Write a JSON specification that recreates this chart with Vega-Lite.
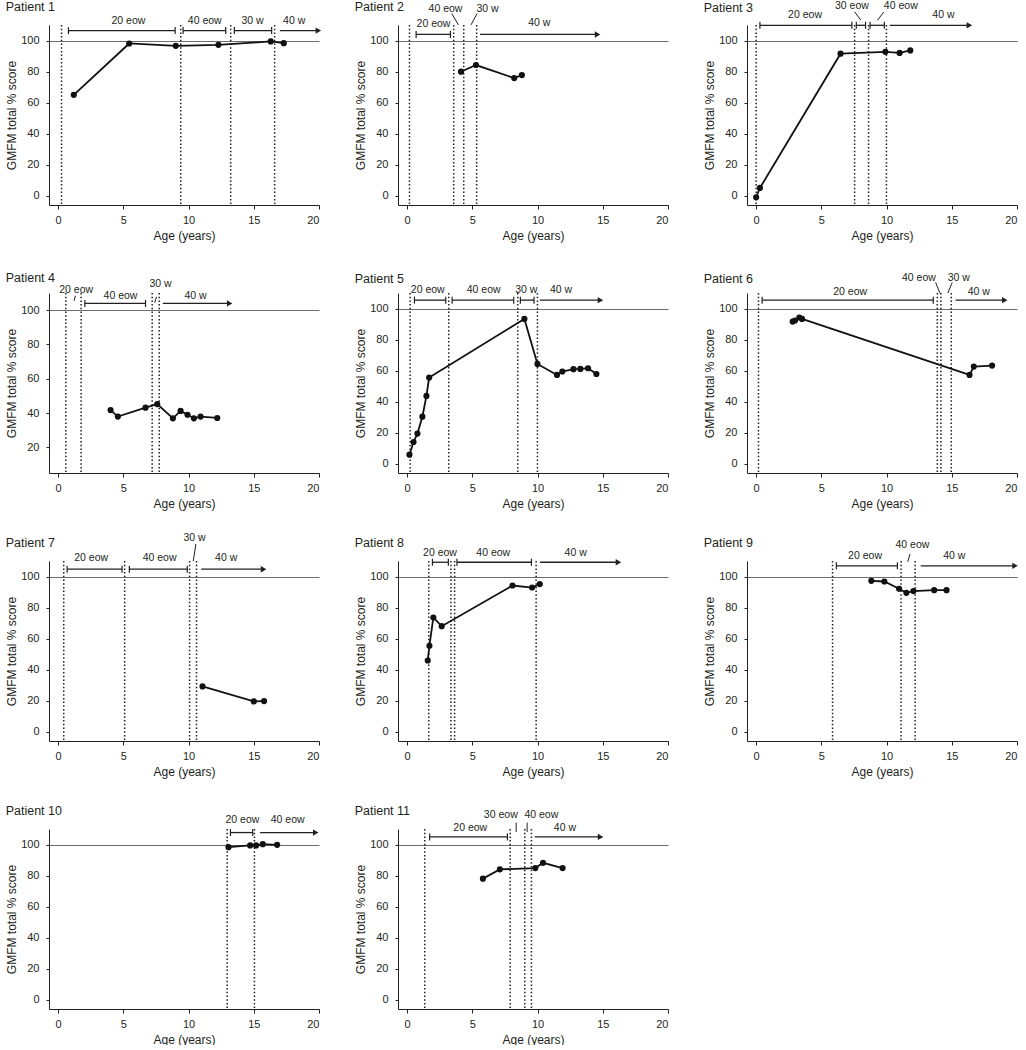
{
"$schema":"https://vega.github.io/schema/vega-lite/v6.json",
"background":"white",
"padding":{"left":5,"top":0,"right":0,"bottom":0},
"config":{"font":"Liberation Sans","view":{"stroke":null},
 "axis":{"grid":false,"domainColor":"#231f20","tickColor":"#231f20","labelColor":"#231f20","titleColor":"#231f20","labelFontSize":11,"titleFontSize":12,"titleFontWeight":"normal","tickSize":4},
 "axisY":{"titlePadding":2,"labelPadding":7,"tickSize":3},"axisX":{"titlePadding":5,"labelPadding":5},
 "title":{"fontSize":12.5,"fontWeight":"normal","color":"#231f20","anchor":"start","frame":"bounds"}},
"datasets":{"d":[
{"p":1,"k":"pt","x":1.2,"y":65},{"p":1,"k":"pt","x":5.45,"y":98.1},{"p":1,"k":"pt","x":9.02,"y":96.6},{"p":1,"k":"pt","x":12.29,"y":97.2},{"p":1,"k":"pt","x":16.3,"y":99.4},{"p":1,"k":"pt","x":17.3,"y":98.3},
{"p":1,"k":"ev","x":0.26},{"p":1,"k":"ev","x":9.4},{"p":1,"k":"ev","x":13.23},{"p":1,"k":"ev","x":16.6},
{"p":1,"k":"bar","x":0.79,"x2":8.97,"y":106.4},{"p":1,"k":"bar","x":9.58,"x2":12.85,"y":106.4},{"p":1,"k":"bar","x":13.51,"x2":16.37,"y":106.4},{"p":1,"k":"bar","x":17.0,"x2":19.95,"y":106.4,"a":1},
{"p":1,"k":"lbl","x":5.39,"y":112.8,"t":"20 eow"},{"p":1,"k":"lbl","x":11.24,"y":112.8,"t":"40 eow"},{"p":1,"k":"lbl","x":14.9,"y":112.8,"t":"30 w"},{"p":1,"k":"lbl","x":18.1,"y":112.8,"t":"40 w"},

{"p":2,"k":"pt","x":4.13,"y":79.9},{"p":2,"k":"pt","x":5.28,"y":84.2},{"p":2,"k":"pt","x":8.21,"y":75.8},{"p":2,"k":"pt","x":8.8,"y":77.7},
{"p":2,"k":"ev","x":0.18},{"p":2,"k":"ev","x":3.57},{"p":2,"k":"ev","x":4.34},{"p":2,"k":"ev","x":5.33},
{"p":2,"k":"bar","x":0.69,"x2":3.32,"y":103.9},{"p":2,"k":"bar","x":5.59,"x2":14.6,"y":103.9,"a":1},
{"p":2,"k":"lbl","x":2.02,"y":110.7,"t":"20 eow"},{"p":2,"k":"lbl","x":2.94,"y":120.6,"t":"40 eow"},{"p":2,"k":"lbl","x":6.17,"y":120.6,"t":"30 w"},{"p":2,"k":"lbl","x":10.13,"y":111.3,"t":"40 w"},
{"p":2,"k":"sl","x":3.42,"y":117.4,"x2":3.93,"y2":110.1},{"p":2,"k":"sl","x":5.36,"y":117.4,"x2":4.9,"y2":110.1},

{"p":3,"k":"pt","x":0,"y":-1},{"p":3,"k":"pt","x":0.29,"y":5},{"p":3,"k":"pt","x":6.47,"y":91.5},{"p":3,"k":"pt","x":9.91,"y":92.7},{"p":3,"k":"pt","x":11.0,"y":92},{"p":3,"k":"pt","x":11.82,"y":93.6},
{"p":3,"k":"ev","x":0},{"p":3,"k":"ev","x":7.55},{"p":3,"k":"ev","x":8.62},{"p":3,"k":"ev","x":9.99},
{"p":3,"k":"bar","x":0.29,"x2":7.34,"y":109.8},{"p":3,"k":"bar","x":7.68,"x2":8.39,"y":109.8},{"p":3,"k":"bar","x":8.73,"x2":9.83,"y":109.8},{"p":3,"k":"bar","x":10.25,"x2":16.35,"y":109.8,"a":1},
{"p":3,"k":"lbl","x":3.75,"y":116.7,"t":"20 eow"},{"p":3,"k":"lbl","x":7.34,"y":122.5,"t":"30 eow"},{"p":3,"k":"lbl","x":11.09,"y":122.5,"t":"40 eow"},{"p":3,"k":"lbl","x":14.36,"y":116.7,"t":"40 w"},
{"p":3,"k":"sl","x":7.55,"y":118.5,"x2":8.02,"y2":113.2},{"p":3,"k":"sl","x":9.78,"y":118.3,"x2":9.3,"y2":113},

{"p":4,"k":"pt","x":4.02,"y":41.7},{"p":4,"k":"pt","x":4.58,"y":37.9},{"p":4,"k":"pt","x":6.7,"y":43.1},{"p":4,"k":"pt","x":7.6,"y":45.2},{"p":4,"k":"pt","x":8.8,"y":36.9},{"p":4,"k":"pt","x":9.39,"y":41.2},{"p":4,"k":"pt","x":9.92,"y":39},{"p":4,"k":"pt","x":10.41,"y":36.9},{"p":4,"k":"pt","x":10.92,"y":37.9},{"p":4,"k":"pt","x":12.2,"y":37.1},
{"p":4,"k":"ev","x":0.59},{"p":4,"k":"ev","x":1.76},{"p":4,"k":"ev","x":7.21},{"p":4,"k":"ev","x":7.75},
{"p":4,"k":"bar","x":2.05,"x2":6.7,"y":103.9},{"p":4,"k":"bar","x":8.03,"x2":13.15,"y":103.9,"a":1},
{"p":4,"k":"lbl","x":1.38,"y":111.7,"t":"20 eow"},{"p":4,"k":"lbl","x":4.78,"y":108.3,"t":"40 eow"},{"p":4,"k":"lbl","x":7.85,"y":115.5,"t":"30 w"},{"p":4,"k":"lbl","x":10.54,"y":108.3,"t":"40 w"},
{"p":4,"k":"sl","x":1.22,"y":105.4,"x2":1.33,"y2":108.4},{"p":4,"k":"sl","x":7.4,"y":104.3,"x2":7.55,"y2":107.8},

{"p":5,"k":"pt","x":0.18,"y":5.8},{"p":5,"k":"pt","x":0.49,"y":14},{"p":5,"k":"pt","x":0.79,"y":19.4},{"p":5,"k":"pt","x":1.17,"y":30.3},{"p":5,"k":"pt","x":1.48,"y":43.7},{"p":5,"k":"pt","x":1.69,"y":55.5},{"p":5,"k":"pt","x":8.99,"y":93.3},{"p":5,"k":"pt","x":9.99,"y":64.3},{"p":5,"k":"pt","x":11.49,"y":57.2},{"p":5,"k":"pt","x":11.9,"y":59.4},{"p":5,"k":"pt","x":12.75,"y":60.9},{"p":5,"k":"pt","x":13.28,"y":61.1},{"p":5,"k":"pt","x":13.87,"y":61.5},{"p":5,"k":"pt","x":14.51,"y":57.8},
{"p":5,"k":"ev","x":0.23},{"p":5,"k":"ev","x":3.19},{"p":5,"k":"ev","x":8.48},{"p":5,"k":"ev","x":9.99},
{"p":5,"k":"bar","x":0.56,"x2":2.96,"y":105.4},{"p":5,"k":"bar","x":3.45,"x2":8.17,"y":105.4},{"p":5,"k":"bar","x":8.68,"x2":9.73,"y":105.4},{"p":5,"k":"bar","x":10.17,"x2":14.82,"y":105.4,"a":1},
{"p":5,"k":"lbl","x":1.58,"y":112,"t":"20 eow"},{"p":5,"k":"lbl","x":5.87,"y":112,"t":"40 eow"},{"p":5,"k":"lbl","x":9.14,"y":112,"t":"30 w"},{"p":5,"k":"lbl","x":11.8,"y":112,"t":"40 w"},

{"p":6,"k":"pt","x":2.8,"y":91.6},{"p":6,"k":"pt","x":2.98,"y":92.3},{"p":6,"k":"pt","x":3.31,"y":94.2},{"p":6,"k":"pt","x":3.52,"y":93.3},{"p":6,"k":"pt","x":16.36,"y":57.2},{"p":6,"k":"pt","x":16.69,"y":62.6},{"p":6,"k":"pt","x":18.09,"y":63.2},
{"p":6,"k":"ev","x":0.18},{"p":6,"k":"ev","x":13.89},{"p":6,"k":"ev","x":14.17},{"p":6,"k":"ev","x":14.96},
{"p":6,"k":"bar","x":0.46,"x2":13.58,"y":105.4},{"p":6,"k":"bar","x":15.29,"x2":19.06,"y":105.4,"a":1},
{"p":6,"k":"lbl","x":7.21,"y":110.8,"t":"20 eow"},{"p":6,"k":"lbl","x":12.48,"y":119.4,"t":"40 eow"},{"p":6,"k":"lbl","x":15.54,"y":119.4,"t":"30 w"},{"p":6,"k":"lbl","x":17.07,"y":110.8,"t":"40 w"},
{"p":6,"k":"sl","x":13.76,"y":116.8,"x2":14.09,"y2":109.9},{"p":6,"k":"sl","x":15.03,"y":116.8,"x2":14.7,"y2":109.9},

{"p":7,"k":"pt","x":11.07,"y":29.2},{"p":7,"k":"pt","x":15.0,"y":19.5},{"p":7,"k":"pt","x":15.79,"y":19.7},
{"p":7,"k":"ev","x":0.43},{"p":7,"k":"ev","x":5.1},{"p":7,"k":"ev","x":10.08},{"p":7,"k":"ev","x":10.61},
{"p":7,"k":"bar","x":0.69,"x2":4.9,"y":104.7},{"p":7,"k":"bar","x":5.46,"x2":9.9,"y":104.7},{"p":7,"k":"bar","x":10.97,"x2":15.75,"y":104.7,"a":1},
{"p":7,"k":"lbl","x":2.53,"y":112,"t":"20 eow"},{"p":7,"k":"lbl","x":7.78,"y":112,"t":"40 eow"},{"p":7,"k":"lbl","x":12.88,"y":112,"t":"40 w"},{"p":7,"k":"lbl","x":10.46,"y":124.9,"t":"30 w"},
{"p":7,"k":"sl","x":10.56,"y":121,"x2":10.36,"y2":109.9},

{"p":8,"k":"pt","x":1.58,"y":45.9},{"p":8,"k":"pt","x":1.71,"y":55.4},{"p":8,"k":"pt","x":2.01,"y":73.6},{"p":8,"k":"pt","x":2.65,"y":68},{"p":8,"k":"pt","x":8.08,"y":94.2},{"p":8,"k":"pt","x":9.58,"y":92.9},{"p":8,"k":"pt","x":10.17,"y":95.1},
{"p":8,"k":"ev","x":1.66},{"p":8,"k":"ev","x":3.36},{"p":8,"k":"ev","x":3.64},{"p":8,"k":"ev","x":9.89},
{"p":8,"k":"bar","x":1.94,"x2":3.16,"y":109.2},{"p":8,"k":"bar","x":3.82,"x2":9.53,"y":109.2},{"p":8,"k":"bar","x":10.19,"x2":16.2,"y":109.2,"a":1},
{"p":8,"k":"lbl","x":2.52,"y":115.2,"t":"20 eow"},{"p":8,"k":"lbl","x":6.6,"y":115.2,"t":"40 eow"},{"p":8,"k":"lbl","x":12.92,"y":115.2,"t":"40 w"},

{"p":9,"k":"pt","x":8.83,"y":97.2},{"p":9,"k":"pt","x":9.83,"y":96.8},{"p":9,"k":"pt","x":10.96,"y":92.1},{"p":9,"k":"pt","x":11.52,"y":89.5},{"p":9,"k":"pt","x":12.06,"y":90.6},{"p":9,"k":"pt","x":13.65,"y":91.2},{"p":9,"k":"pt","x":14.6,"y":91.2},
{"p":9,"k":"ev","x":5.86},{"p":9,"k":"ev","x":11.11},{"p":9,"k":"ev","x":12.19},
{"p":9,"k":"bar","x":6.15,"x2":10.83,"y":106.9},{"p":9,"k":"bar","x":12.62,"x2":19.85,"y":106.9,"a":1},
{"p":9,"k":"lbl","x":8.35,"y":113.5,"t":"20 eow"},{"p":9,"k":"lbl","x":11.98,"y":120,"t":"40 eow"},{"p":9,"k":"lbl","x":15.19,"y":113.5,"t":"40 w"},
{"p":9,"k":"sl","x":11.8,"y":114.5,"x2":11.62,"y2":109.5},

{"p":10,"k":"pt","x":13.06,"y":98.3},{"p":10,"k":"pt","x":14.72,"y":99.4},{"p":10,"k":"pt","x":15.18,"y":99.4},{"p":10,"k":"pt","x":15.69,"y":100.2},{"p":10,"k":"pt","x":16.79,"y":99.8},
{"p":10,"k":"ev","x":12.96},{"p":10,"k":"ev","x":15.05},
{"p":10,"k":"bar","x":13.21,"x2":14.92,"y":107.7},{"p":10,"k":"bar","x":15.48,"x2":19.75,"y":107.7,"a":1},
{"p":10,"k":"lbl","x":14.13,"y":115.5,"t":"20 eow"},{"p":10,"k":"lbl","x":17.6,"y":115.5,"t":"40 eow"},

{"p":11,"k":"pt","x":5.81,"y":78},{"p":11,"k":"pt","x":7.11,"y":84},{"p":11,"k":"pt","x":9.83,"y":84.8},{"p":11,"k":"pt","x":10.42,"y":88.2},{"p":11,"k":"pt","x":11.92,"y":84.8},
{"p":11,"k":"ev","x":1.35},{"p":11,"k":"ev","x":7.9},{"p":11,"k":"ev","x":9.02},{"p":11,"k":"ev","x":9.53},
{"p":11,"k":"bar","x":1.73,"x2":7.69,"y":104.9},{"p":11,"k":"bar","x":9.78,"x2":14.83,"y":104.9,"a":1},
{"p":11,"k":"lbl","x":4.84,"y":110.9,"t":"20 eow"},{"p":11,"k":"lbl","x":7.18,"y":118.8,"t":"30 eow"},{"p":11,"k":"lbl","x":10.29,"y":118.8,"t":"40 eow"},{"p":11,"k":"lbl","x":12.1,"y":110.9,"t":"40 w"},
{"p":11,"k":"sl","x":8.36,"y":114.1,"x2":8.36,"y2":108.1},{"p":11,"k":"sl","x":9.2,"y":114.1,"x2":9.2,"y2":108.1}
]},
"data":{"name":"d"},
"bounds":"flush",
"columns":3,
"spacing":{"row":88,"column":79},
"concat":[
{"width":270,"height":180,"title":{"text":"Patient 1","offset":2},"transform":[{"filter":"datum.p==1"}],"encoding":{"x":{"field":"x","type":"quantitative","title":"Age (years)","scale":{"domain":[-0.7,20],"nice":false,"zero":false},"axis":{"values":[0,5,10,15,20]}},"y":{"field":"y","type":"quantitative","title":"GMFM total % score","scale":{"domain":[-6,110],"nice":false,"zero":false},"axis":{"values":[0,20,40,60,80,100],"grid":true,"gridColor":"#6d6d6d","gridWidth":1.2,"gridOpacity":{"condition":{"test":"datum.value === 100","value":1},"value":0}}}},"layer":[
{"transform":[{"filter":"datum.k=='ev'"}],"mark":{"type":"rule","color":"#231f20","strokeWidth":1.5,"strokeDash":[1.5,2.2]},"encoding":{"y":null}},
{"transform":[{"filter":"datum.k=='bar'"}],"mark":{"type":"rule","color":"#231f20","strokeWidth":1.3},"encoding":{"x2":{"field":"x2"}}},
{"transform":[{"filter":"datum.k=='bar' && !datum.a"},{"fold":["x","x2"],"as":["e","cx"]}],"mark":{"type":"tick","orient":"vertical","size":7,"thickness":1.2,"color":"#231f20","opacity":1},"encoding":{"x":{"field":"cx","type":"quantitative","scale":{"domain":[-0.7,20],"nice":false,"zero":false}}}},
{"transform":[{"filter":"datum.k=='bar' && datum.a"}],"mark":{"type":"point","shape":"triangle-right","filled":true,"size":40,"color":"#231f20","opacity":1},"encoding":{"x":{"field":"x2","type":"quantitative","scale":{"domain":[-0.7,20],"nice":false,"zero":false}}}},
{"transform":[{"filter":"datum.k=='sl'"}],"mark":{"type":"rule","color":"#231f20","strokeWidth":1},"encoding":{"x2":{"field":"x2"},"y2":{"field":"y2"}}},
{"transform":[{"filter":"datum.k=='lbl'"}],"mark":{"type":"text","fontSize":10.5,"color":"#231f20"},"encoding":{"text":{"field":"t"}}},
{"transform":[{"filter":"datum.k=='pt'"}],"mark":{"type":"line","color":"#111","strokeWidth":1.8,"point":{"filled":true,"size":38,"color":"#111","opacity":1}}}
]},
{"width":270,"height":180,"title":{"text":"Patient 2","offset":-10},"transform":[{"filter":"datum.p==2"}],"encoding":{"x":{"field":"x","type":"quantitative","title":"Age (years)","scale":{"domain":[-0.7,20],"nice":false,"zero":false},"axis":{"values":[0,5,10,15,20]}},"y":{"field":"y","type":"quantitative","title":"GMFM total % score","scale":{"domain":[-6,110],"nice":false,"zero":false},"axis":{"values":[0,20,40,60,80,100],"grid":true,"gridColor":"#6d6d6d","gridWidth":1.2,"gridOpacity":{"condition":{"test":"datum.value === 100","value":1},"value":0}}}},"layer":[
{"transform":[{"filter":"datum.k=='ev'"}],"mark":{"type":"rule","color":"#231f20","strokeWidth":1.5,"strokeDash":[1.5,2.2]},"encoding":{"y":null}},
{"transform":[{"filter":"datum.k=='bar'"}],"mark":{"type":"rule","color":"#231f20","strokeWidth":1.3},"encoding":{"x2":{"field":"x2"}}},
{"transform":[{"filter":"datum.k=='bar' && !datum.a"},{"fold":["x","x2"],"as":["e","cx"]}],"mark":{"type":"tick","orient":"vertical","size":7,"thickness":1.2,"color":"#231f20","opacity":1},"encoding":{"x":{"field":"cx","type":"quantitative","scale":{"domain":[-0.7,20],"nice":false,"zero":false}}}},
{"transform":[{"filter":"datum.k=='bar' && datum.a"}],"mark":{"type":"point","shape":"triangle-right","filled":true,"size":40,"color":"#231f20","opacity":1},"encoding":{"x":{"field":"x2","type":"quantitative","scale":{"domain":[-0.7,20],"nice":false,"zero":false}}}},
{"transform":[{"filter":"datum.k=='sl'"}],"mark":{"type":"rule","color":"#231f20","strokeWidth":1},"encoding":{"x2":{"field":"x2"},"y2":{"field":"y2"}}},
{"transform":[{"filter":"datum.k=='lbl'"}],"mark":{"type":"text","fontSize":10.5,"color":"#231f20"},"encoding":{"text":{"field":"t"}}},
{"transform":[{"filter":"datum.k=='pt'"}],"mark":{"type":"line","color":"#111","strokeWidth":1.8,"point":{"filled":true,"size":38,"color":"#111","opacity":1}}}
]},
{"width":270,"height":180,"title":{"text":"Patient 3","offset":-14.1},"transform":[{"filter":"datum.p==3"}],"encoding":{"x":{"field":"x","type":"quantitative","title":"Age (years)","scale":{"domain":[-0.7,20],"nice":false,"zero":false},"axis":{"values":[0,5,10,15,20]}},"y":{"field":"y","type":"quantitative","title":"GMFM total % score","scale":{"domain":[-6,110],"nice":false,"zero":false},"axis":{"values":[0,20,40,60,80,100],"grid":true,"gridColor":"#6d6d6d","gridWidth":1.2,"gridOpacity":{"condition":{"test":"datum.value === 100","value":1},"value":0}}}},"layer":[
{"transform":[{"filter":"datum.k=='ev'"}],"mark":{"type":"rule","color":"#231f20","strokeWidth":1.5,"strokeDash":[1.5,2.2]},"encoding":{"y":null}},
{"transform":[{"filter":"datum.k=='bar'"}],"mark":{"type":"rule","color":"#231f20","strokeWidth":1.3},"encoding":{"x2":{"field":"x2"}}},
{"transform":[{"filter":"datum.k=='bar' && !datum.a"},{"fold":["x","x2"],"as":["e","cx"]}],"mark":{"type":"tick","orient":"vertical","size":7,"thickness":1.2,"color":"#231f20","opacity":1},"encoding":{"x":{"field":"cx","type":"quantitative","scale":{"domain":[-0.7,20],"nice":false,"zero":false}}}},
{"transform":[{"filter":"datum.k=='bar' && datum.a"}],"mark":{"type":"point","shape":"triangle-right","filled":true,"size":40,"color":"#231f20","opacity":1},"encoding":{"x":{"field":"x2","type":"quantitative","scale":{"domain":[-0.7,20],"nice":false,"zero":false}}}},
{"transform":[{"filter":"datum.k=='sl'"}],"mark":{"type":"rule","color":"#231f20","strokeWidth":1},"encoding":{"x2":{"field":"x2"},"y2":{"field":"y2"}}},
{"transform":[{"filter":"datum.k=='lbl'"}],"mark":{"type":"text","fontSize":10.5,"color":"#231f20"},"encoding":{"text":{"field":"t"}}},
{"transform":[{"filter":"datum.k=='pt'"}],"mark":{"type":"line","color":"#111","strokeWidth":1.8,"point":{"filled":true,"size":38,"color":"#111","opacity":1}}}
]},
{"width":270,"height":180,"title":{"text":"Patient 4","offset":-6.4},"transform":[{"filter":"datum.p==4"}],"encoding":{"x":{"field":"x","type":"quantitative","title":"Age (years)","scale":{"domain":[-0.7,20],"nice":false,"zero":false},"axis":{"values":[0,5,10,15,20]}},"y":{"field":"y","type":"quantitative","title":"GMFM total % score","scale":{"domain":[5,110],"nice":false,"zero":false},"axis":{"values":[20,40,60,80,100],"grid":true,"gridColor":"#6d6d6d","gridWidth":1.2,"gridOpacity":{"condition":{"test":"datum.value === 100","value":1},"value":0}}}},"layer":[
{"transform":[{"filter":"datum.k=='ev'"}],"mark":{"type":"rule","color":"#231f20","strokeWidth":1.5,"strokeDash":[1.5,2.2]},"encoding":{"y":null}},
{"transform":[{"filter":"datum.k=='bar'"}],"mark":{"type":"rule","color":"#231f20","strokeWidth":1.3},"encoding":{"x2":{"field":"x2"}}},
{"transform":[{"filter":"datum.k=='bar' && !datum.a"},{"fold":["x","x2"],"as":["e","cx"]}],"mark":{"type":"tick","orient":"vertical","size":7,"thickness":1.2,"color":"#231f20","opacity":1},"encoding":{"x":{"field":"cx","type":"quantitative","scale":{"domain":[-0.7,20],"nice":false,"zero":false}}}},
{"transform":[{"filter":"datum.k=='bar' && datum.a"}],"mark":{"type":"point","shape":"triangle-right","filled":true,"size":40,"color":"#231f20","opacity":1},"encoding":{"x":{"field":"x2","type":"quantitative","scale":{"domain":[-0.7,20],"nice":false,"zero":false}}}},
{"transform":[{"filter":"datum.k=='sl'"}],"mark":{"type":"rule","color":"#231f20","strokeWidth":1},"encoding":{"x2":{"field":"x2"},"y2":{"field":"y2"}}},
{"transform":[{"filter":"datum.k=='lbl'"}],"mark":{"type":"text","fontSize":10.5,"color":"#231f20"},"encoding":{"text":{"field":"t"}}},
{"transform":[{"filter":"datum.k=='pt'"}],"mark":{"type":"line","color":"#111","strokeWidth":1.8,"point":{"filled":true,"size":38,"color":"#111","opacity":1}}}
]},
{"width":270,"height":180,"title":{"text":"Patient 5","offset":-0.8},"transform":[{"filter":"datum.p==5"}],"encoding":{"x":{"field":"x","type":"quantitative","title":"Age (years)","scale":{"domain":[-0.7,20],"nice":false,"zero":false},"axis":{"values":[0,5,10,15,20]}},"y":{"field":"y","type":"quantitative","title":"GMFM total % score","scale":{"domain":[-6,110],"nice":false,"zero":false},"axis":{"values":[0,20,40,60,80,100],"grid":true,"gridColor":"#6d6d6d","gridWidth":1.2,"gridOpacity":{"condition":{"test":"datum.value === 100","value":1},"value":0}}}},"layer":[
{"transform":[{"filter":"datum.k=='ev'"}],"mark":{"type":"rule","color":"#231f20","strokeWidth":1.5,"strokeDash":[1.5,2.2]},"encoding":{"y":null}},
{"transform":[{"filter":"datum.k=='bar'"}],"mark":{"type":"rule","color":"#231f20","strokeWidth":1.3},"encoding":{"x2":{"field":"x2"}}},
{"transform":[{"filter":"datum.k=='bar' && !datum.a"},{"fold":["x","x2"],"as":["e","cx"]}],"mark":{"type":"tick","orient":"vertical","size":7,"thickness":1.2,"color":"#231f20","opacity":1},"encoding":{"x":{"field":"cx","type":"quantitative","scale":{"domain":[-0.7,20],"nice":false,"zero":false}}}},
{"transform":[{"filter":"datum.k=='bar' && datum.a"}],"mark":{"type":"point","shape":"triangle-right","filled":true,"size":40,"color":"#231f20","opacity":1},"encoding":{"x":{"field":"x2","type":"quantitative","scale":{"domain":[-0.7,20],"nice":false,"zero":false}}}},
{"transform":[{"filter":"datum.k=='sl'"}],"mark":{"type":"rule","color":"#231f20","strokeWidth":1},"encoding":{"x2":{"field":"x2"},"y2":{"field":"y2"}}},
{"transform":[{"filter":"datum.k=='lbl'"}],"mark":{"type":"text","fontSize":10.5,"color":"#231f20"},"encoding":{"text":{"field":"t"}}},
{"transform":[{"filter":"datum.k=='pt'"}],"mark":{"type":"line","color":"#111","strokeWidth":1.8,"point":{"filled":true,"size":38,"color":"#111","opacity":1}}}
]},
{"width":270,"height":180,"title":{"text":"Patient 6","offset":-12.3},"transform":[{"filter":"datum.p==6"}],"encoding":{"x":{"field":"x","type":"quantitative","title":"Age (years)","scale":{"domain":[-0.7,20],"nice":false,"zero":false},"axis":{"values":[0,5,10,15,20]}},"y":{"field":"y","type":"quantitative","title":"GMFM total % score","scale":{"domain":[-6,110],"nice":false,"zero":false},"axis":{"values":[0,20,40,60,80,100],"grid":true,"gridColor":"#6d6d6d","gridWidth":1.2,"gridOpacity":{"condition":{"test":"datum.value === 100","value":1},"value":0}}}},"layer":[
{"transform":[{"filter":"datum.k=='ev'"}],"mark":{"type":"rule","color":"#231f20","strokeWidth":1.5,"strokeDash":[1.5,2.2]},"encoding":{"y":null}},
{"transform":[{"filter":"datum.k=='bar'"}],"mark":{"type":"rule","color":"#231f20","strokeWidth":1.3},"encoding":{"x2":{"field":"x2"}}},
{"transform":[{"filter":"datum.k=='bar' && !datum.a"},{"fold":["x","x2"],"as":["e","cx"]}],"mark":{"type":"tick","orient":"vertical","size":7,"thickness":1.2,"color":"#231f20","opacity":1},"encoding":{"x":{"field":"cx","type":"quantitative","scale":{"domain":[-0.7,20],"nice":false,"zero":false}}}},
{"transform":[{"filter":"datum.k=='bar' && datum.a"}],"mark":{"type":"point","shape":"triangle-right","filled":true,"size":40,"color":"#231f20","opacity":1},"encoding":{"x":{"field":"x2","type":"quantitative","scale":{"domain":[-0.7,20],"nice":false,"zero":false}}}},
{"transform":[{"filter":"datum.k=='sl'"}],"mark":{"type":"rule","color":"#231f20","strokeWidth":1},"encoding":{"x2":{"field":"x2"},"y2":{"field":"y2"}}},
{"transform":[{"filter":"datum.k=='lbl'"}],"mark":{"type":"text","fontSize":10.5,"color":"#231f20"},"encoding":{"text":{"field":"t"}}},
{"transform":[{"filter":"datum.k=='pt'"}],"mark":{"type":"line","color":"#111","strokeWidth":1.8,"point":{"filled":true,"size":38,"color":"#111","opacity":1}}}
]},
{"width":270,"height":180,"title":{"text":"Patient 7","offset":-16.7},"transform":[{"filter":"datum.p==7"}],"encoding":{"x":{"field":"x","type":"quantitative","title":"Age (years)","scale":{"domain":[-0.7,20],"nice":false,"zero":false},"axis":{"values":[0,5,10,15,20]}},"y":{"field":"y","type":"quantitative","title":"GMFM total % score","scale":{"domain":[-6,110],"nice":false,"zero":false},"axis":{"values":[0,20,40,60,80,100],"grid":true,"gridColor":"#6d6d6d","gridWidth":1.2,"gridOpacity":{"condition":{"test":"datum.value === 100","value":1},"value":0}}}},"layer":[
{"transform":[{"filter":"datum.k=='ev'"}],"mark":{"type":"rule","color":"#231f20","strokeWidth":1.5,"strokeDash":[1.5,2.2]},"encoding":{"y":null}},
{"transform":[{"filter":"datum.k=='bar'"}],"mark":{"type":"rule","color":"#231f20","strokeWidth":1.3},"encoding":{"x2":{"field":"x2"}}},
{"transform":[{"filter":"datum.k=='bar' && !datum.a"},{"fold":["x","x2"],"as":["e","cx"]}],"mark":{"type":"tick","orient":"vertical","size":7,"thickness":1.2,"color":"#231f20","opacity":1},"encoding":{"x":{"field":"cx","type":"quantitative","scale":{"domain":[-0.7,20],"nice":false,"zero":false}}}},
{"transform":[{"filter":"datum.k=='bar' && datum.a"}],"mark":{"type":"point","shape":"triangle-right","filled":true,"size":40,"color":"#231f20","opacity":1},"encoding":{"x":{"field":"x2","type":"quantitative","scale":{"domain":[-0.7,20],"nice":false,"zero":false}}}},
{"transform":[{"filter":"datum.k=='sl'"}],"mark":{"type":"rule","color":"#231f20","strokeWidth":1},"encoding":{"x2":{"field":"x2"},"y2":{"field":"y2"}}},
{"transform":[{"filter":"datum.k=='lbl'"}],"mark":{"type":"text","fontSize":10.5,"color":"#231f20"},"encoding":{"text":{"field":"t"}}},
{"transform":[{"filter":"datum.k=='pt'"}],"mark":{"type":"line","color":"#111","strokeWidth":1.8,"point":{"filled":true,"size":38,"color":"#111","opacity":1}}}
]},
{"width":270,"height":180,"title":{"text":"Patient 8","offset":-1.7},"transform":[{"filter":"datum.p==8"}],"encoding":{"x":{"field":"x","type":"quantitative","title":"Age (years)","scale":{"domain":[-0.7,20],"nice":false,"zero":false},"axis":{"values":[0,5,10,15,20]}},"y":{"field":"y","type":"quantitative","title":"GMFM total % score","scale":{"domain":[-6,110],"nice":false,"zero":false},"axis":{"values":[0,20,40,60,80,100],"grid":true,"gridColor":"#6d6d6d","gridWidth":1.2,"gridOpacity":{"condition":{"test":"datum.value === 100","value":1},"value":0}}}},"layer":[
{"transform":[{"filter":"datum.k=='ev'"}],"mark":{"type":"rule","color":"#231f20","strokeWidth":1.5,"strokeDash":[1.5,2.2]},"encoding":{"y":null}},
{"transform":[{"filter":"datum.k=='bar'"}],"mark":{"type":"rule","color":"#231f20","strokeWidth":1.3},"encoding":{"x2":{"field":"x2"}}},
{"transform":[{"filter":"datum.k=='bar' && !datum.a"},{"fold":["x","x2"],"as":["e","cx"]}],"mark":{"type":"tick","orient":"vertical","size":7,"thickness":1.2,"color":"#231f20","opacity":1},"encoding":{"x":{"field":"cx","type":"quantitative","scale":{"domain":[-0.7,20],"nice":false,"zero":false}}}},
{"transform":[{"filter":"datum.k=='bar' && datum.a"}],"mark":{"type":"point","shape":"triangle-right","filled":true,"size":40,"color":"#231f20","opacity":1},"encoding":{"x":{"field":"x2","type":"quantitative","scale":{"domain":[-0.7,20],"nice":false,"zero":false}}}},
{"transform":[{"filter":"datum.k=='sl'"}],"mark":{"type":"rule","color":"#231f20","strokeWidth":1},"encoding":{"x2":{"field":"x2"},"y2":{"field":"y2"}}},
{"transform":[{"filter":"datum.k=='lbl'"}],"mark":{"type":"text","fontSize":10.5,"color":"#231f20"},"encoding":{"text":{"field":"t"}}},
{"transform":[{"filter":"datum.k=='pt'"}],"mark":{"type":"line","color":"#111","strokeWidth":1.8,"point":{"filled":true,"size":38,"color":"#111","opacity":1}}}
]},
{"width":270,"height":180,"title":{"text":"Patient 9","offset":-9.2},"transform":[{"filter":"datum.p==9"}],"encoding":{"x":{"field":"x","type":"quantitative","title":"Age (years)","scale":{"domain":[-0.7,20],"nice":false,"zero":false},"axis":{"values":[0,5,10,15,20]}},"y":{"field":"y","type":"quantitative","title":"GMFM total % score","scale":{"domain":[-6,110],"nice":false,"zero":false},"axis":{"values":[0,20,40,60,80,100],"grid":true,"gridColor":"#6d6d6d","gridWidth":1.2,"gridOpacity":{"condition":{"test":"datum.value === 100","value":1},"value":0}}}},"layer":[
{"transform":[{"filter":"datum.k=='ev'"}],"mark":{"type":"rule","color":"#231f20","strokeWidth":1.5,"strokeDash":[1.5,2.2]},"encoding":{"y":null}},
{"transform":[{"filter":"datum.k=='bar'"}],"mark":{"type":"rule","color":"#231f20","strokeWidth":1.3},"encoding":{"x2":{"field":"x2"}}},
{"transform":[{"filter":"datum.k=='bar' && !datum.a"},{"fold":["x","x2"],"as":["e","cx"]}],"mark":{"type":"tick","orient":"vertical","size":7,"thickness":1.2,"color":"#231f20","opacity":1},"encoding":{"x":{"field":"cx","type":"quantitative","scale":{"domain":[-0.7,20],"nice":false,"zero":false}}}},
{"transform":[{"filter":"datum.k=='bar' && datum.a"}],"mark":{"type":"point","shape":"triangle-right","filled":true,"size":40,"color":"#231f20","opacity":1},"encoding":{"x":{"field":"x2","type":"quantitative","scale":{"domain":[-0.7,20],"nice":false,"zero":false}}}},
{"transform":[{"filter":"datum.k=='sl'"}],"mark":{"type":"rule","color":"#231f20","strokeWidth":1},"encoding":{"x2":{"field":"x2"},"y2":{"field":"y2"}}},
{"transform":[{"filter":"datum.k=='lbl'"}],"mark":{"type":"text","fontSize":10.5,"color":"#231f20"},"encoding":{"text":{"field":"t"}}},
{"transform":[{"filter":"datum.k=='pt'"}],"mark":{"type":"line","color":"#111","strokeWidth":1.8,"point":{"filled":true,"size":38,"color":"#111","opacity":1}}}
]},
{"width":270,"height":180,"title":{"text":"Patient 10","offset":-1.8},"transform":[{"filter":"datum.p==10"}],"encoding":{"x":{"field":"x","type":"quantitative","title":"Age (years)","scale":{"domain":[-0.7,20],"nice":false,"zero":false},"axis":{"values":[0,5,10,15,20]}},"y":{"field":"y","type":"quantitative","title":"GMFM total % score","scale":{"domain":[-6,110],"nice":false,"zero":false},"axis":{"values":[0,20,40,60,80,100],"grid":true,"gridColor":"#6d6d6d","gridWidth":1.2,"gridOpacity":{"condition":{"test":"datum.value === 100","value":1},"value":0}}}},"layer":[
{"transform":[{"filter":"datum.k=='ev'"}],"mark":{"type":"rule","color":"#231f20","strokeWidth":1.5,"strokeDash":[1.5,2.2]},"encoding":{"y":null}},
{"transform":[{"filter":"datum.k=='bar'"}],"mark":{"type":"rule","color":"#231f20","strokeWidth":1.3},"encoding":{"x2":{"field":"x2"}}},
{"transform":[{"filter":"datum.k=='bar' && !datum.a"},{"fold":["x","x2"],"as":["e","cx"]}],"mark":{"type":"tick","orient":"vertical","size":7,"thickness":1.2,"color":"#231f20","opacity":1},"encoding":{"x":{"field":"cx","type":"quantitative","scale":{"domain":[-0.7,20],"nice":false,"zero":false}}}},
{"transform":[{"filter":"datum.k=='bar' && datum.a"}],"mark":{"type":"point","shape":"triangle-right","filled":true,"size":40,"color":"#231f20","opacity":1},"encoding":{"x":{"field":"x2","type":"quantitative","scale":{"domain":[-0.7,20],"nice":false,"zero":false}}}},
{"transform":[{"filter":"datum.k=='sl'"}],"mark":{"type":"rule","color":"#231f20","strokeWidth":1},"encoding":{"x2":{"field":"x2"},"y2":{"field":"y2"}}},
{"transform":[{"filter":"datum.k=='lbl'"}],"mark":{"type":"text","fontSize":10.5,"color":"#231f20"},"encoding":{"text":{"field":"t"}}},
{"transform":[{"filter":"datum.k=='pt'"}],"mark":{"type":"line","color":"#111","strokeWidth":1.8,"point":{"filled":true,"size":38,"color":"#111","opacity":1}}}
]},
{"width":270,"height":180,"title":{"text":"Patient 11","offset":-6.9},"transform":[{"filter":"datum.p==11"}],"encoding":{"x":{"field":"x","type":"quantitative","title":"Age (years)","scale":{"domain":[-0.7,20],"nice":false,"zero":false},"axis":{"values":[0,5,10,15,20]}},"y":{"field":"y","type":"quantitative","title":"GMFM total % score","scale":{"domain":[-6,110],"nice":false,"zero":false},"axis":{"values":[0,20,40,60,80,100],"grid":true,"gridColor":"#6d6d6d","gridWidth":1.2,"gridOpacity":{"condition":{"test":"datum.value === 100","value":1},"value":0}}}},"layer":[
{"transform":[{"filter":"datum.k=='ev'"}],"mark":{"type":"rule","color":"#231f20","strokeWidth":1.5,"strokeDash":[1.5,2.2]},"encoding":{"y":null}},
{"transform":[{"filter":"datum.k=='bar'"}],"mark":{"type":"rule","color":"#231f20","strokeWidth":1.3},"encoding":{"x2":{"field":"x2"}}},
{"transform":[{"filter":"datum.k=='bar' && !datum.a"},{"fold":["x","x2"],"as":["e","cx"]}],"mark":{"type":"tick","orient":"vertical","size":7,"thickness":1.2,"color":"#231f20","opacity":1},"encoding":{"x":{"field":"cx","type":"quantitative","scale":{"domain":[-0.7,20],"nice":false,"zero":false}}}},
{"transform":[{"filter":"datum.k=='bar' && datum.a"}],"mark":{"type":"point","shape":"triangle-right","filled":true,"size":40,"color":"#231f20","opacity":1},"encoding":{"x":{"field":"x2","type":"quantitative","scale":{"domain":[-0.7,20],"nice":false,"zero":false}}}},
{"transform":[{"filter":"datum.k=='sl'"}],"mark":{"type":"rule","color":"#231f20","strokeWidth":1},"encoding":{"x2":{"field":"x2"},"y2":{"field":"y2"}}},
{"transform":[{"filter":"datum.k=='lbl'"}],"mark":{"type":"text","fontSize":10.5,"color":"#231f20"},"encoding":{"text":{"field":"t"}}},
{"transform":[{"filter":"datum.k=='pt'"}],"mark":{"type":"line","color":"#111","strokeWidth":1.8,"point":{"filled":true,"size":38,"color":"#111","opacity":1}}}
]}
]
}
